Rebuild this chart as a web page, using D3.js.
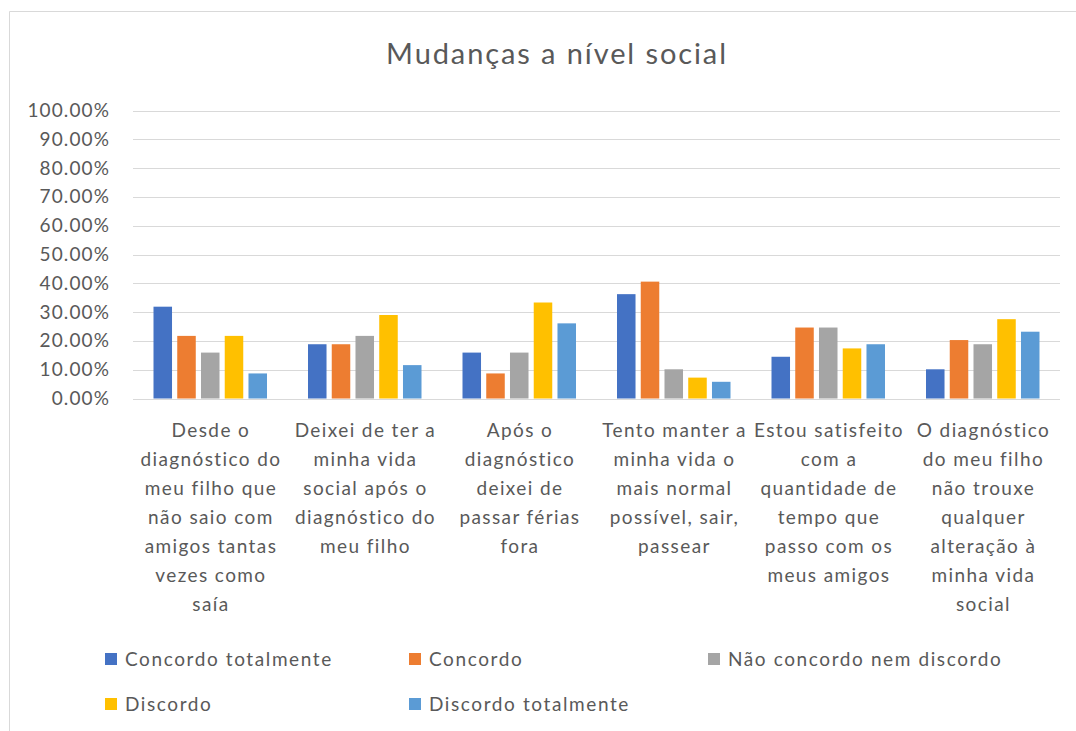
<!DOCTYPE html>
<html><head><meta charset="utf-8">
<script src="https://cdn.jsdelivr.net/npm/d3@7"></script>
<style>html,body{margin:0;padding:0;background:#fff;}svg{display:block;font-family:Lato,"Open Sans",sans-serif;}</style>
</head><body>
<svg id="c" width="1076" height="731"></svg>
<script>
const title = "Mudanças a nível social";
const categories = ["c1","c2","c3","c4","c5","c6"];
const categoryLabels = [
  ["Desde o","diagnóstico do","meu filho que","não saio com","amigos tantas","vezes como","saía"],
  ["Deixei de ter a","minha vida","social após o","diagnóstico do","meu filho"],
  ["Após o","diagnóstico","deixei de","passar férias","fora"],
  ["Tento manter a","minha vida o","mais normal","possível, sair,","passear"],
  ["Estou satisfeito","com a","quantidade de","tempo que","passo com os","meus amigos"],
  ["O diagnóstico","do meu filho","não trouxe","qualquer","alteração à","minha vida","social"]
];
const seriesNames = ["Concordo totalmente","Concordo","Não concordo nem discordo","Discordo","Discordo totalmente"];
const concordoTotalmente = [0.3188,0.1884,0.1594,0.3623,0.1449,0.1014];
const concordo           = [0.2174,0.1884,0.0870,0.4058,0.2464,0.2029];
const naoConcordo        = [0.1594,0.2174,0.1594,0.1014,0.2464,0.1884];
const discordo           = [0.2174,0.2899,0.3333,0.0725,0.1739,0.2754];
const discordoTotalmente = [0.0870,0.1159,0.2609,0.0580,0.1884,0.2319];
const seriesValues = [concordoTotalmente,concordo,naoConcordo,discordo,discordoTotalmente];
const yTicks = [0,0.1,0.2,0.3,0.4,0.5,0.6,0.7,0.8,0.9,1.0];
const colors = ["#4472C4","#ED7D31","#A5A5A5","#FFC000","#5B9BD5"];

const svg = d3.select("#c");
const textColor = "#595959";
const gridColor = "#D9D9D9";

// chart border
svg.append("path").attr("d","M9.5,740 V11.5 H1090").attr("fill","none").attr("stroke",gridColor).attr("stroke-width",1);

svg.append("text").attr("x",557).attr("y",64).attr("text-anchor","middle")
  .attr("font-size",29).attr("letter-spacing","1.9px").attr("fill",textColor).text(title);

const x0 = d3.scaleBand().domain(categories).range([133,1060]).padding(0);
const x1 = d3.scaleBand().domain(seriesNames).range([20.5, x0.bandwidth()-20.5]).paddingInner(0.22).paddingOuter(0);
const y = d3.scaleLinear().domain([0,1]).range([398.5,110.5]);

// gridlines
svg.append("g").selectAll("line").data(yTicks).join("line")
  .attr("x1",133).attr("x2",1060)
  .attr("y1",d=>Math.round(y(d))+0.5).attr("y2",d=>Math.round(y(d))+0.5)
  .attr("stroke",gridColor).attr("stroke-width",1);

// y axis labels
const yAxis = d3.axisLeft(y).tickValues(yTicks).tickFormat(d=>(d*100).toFixed(2)+"%").tickSize(0).tickPadding(23);
const ya = svg.append("g").attr("transform","translate(133,0)").call(yAxis);
ya.select(".domain").remove();
ya.selectAll("text").attr("font-size",19).attr("letter-spacing","1.1px").attr("fill",textColor).attr("font-family","Lato,'Open Sans',sans-serif");

// bars
const groups = svg.append("g").selectAll("g").data(categories).join("g")
  .attr("transform",d=>`translate(${x0(d)},0)`);
groups.selectAll("rect").data((d,i)=>seriesNames.map((s,j)=>({s,v:seriesValues[j][i],c:colors[j]}))).join("rect")
  .attr("x",d=>x1(d.s)).attr("width",x1.bandwidth())
  .attr("y",d=>y(d.v)).attr("height",d=>y(0)-y(d.v))
  .attr("fill",d=>d.c);

// category labels
const xl = svg.append("g");
categories.forEach((c,i)=>{
  const t = xl.append("text").attr("text-anchor","middle").attr("font-size",19).attr("letter-spacing","1.4px").attr("fill",textColor);
  categoryLabels[i].forEach((line,k)=>{
    t.append("tspan").attr("x",x0(c)+x0.bandwidth()/2+0.7).attr("y",437+k*29).text(line);
  });
});

// legend
const legendPos = [[105,666],[409,666],[708,666],[105,711],[409,711]];
const lg = svg.append("g").selectAll("g").data(seriesNames).join("g")
  .attr("transform",(d,i)=>`translate(${legendPos[i][0]},${legendPos[i][1]})`);
lg.append("rect").attr("x",0).attr("y",-13).attr("width",12).attr("height",12).attr("fill",(d,i)=>colors[i]);
lg.append("text").attr("x",20).attr("y",0).attr("font-size",19).attr("letter-spacing","1.6px").attr("fill",textColor).text(d=>d);
</script>
</body></html>
